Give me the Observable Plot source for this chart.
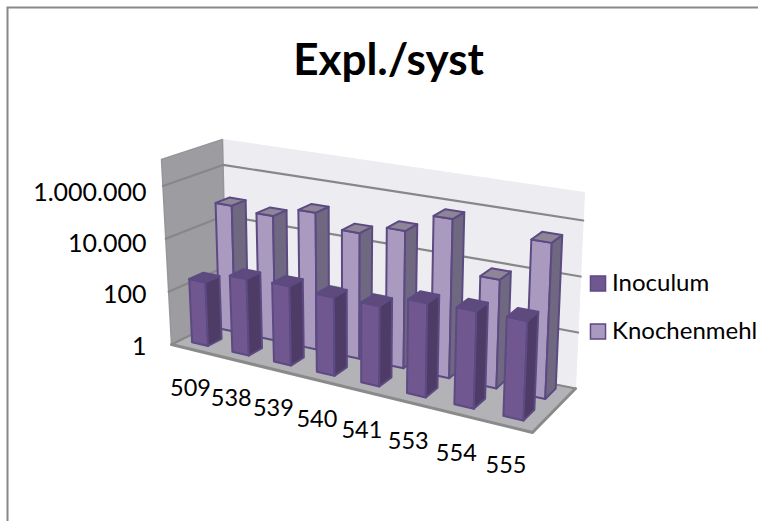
<!DOCTYPE html>
<html>
<head>
<meta charset="utf-8">
<script src="https://cdn.jsdelivr.net/npm/d3@7"></script>
<script src="https://cdn.jsdelivr.net/npm/@observablehq/plot@0.6"></script>
<style>
  html, body { margin: 0; padding: 0; background: #fff; overflow: hidden; }
</style>
</head>
<body>
<div id="chart"></div>
<script>
// Chart values
const categories = ["509", "538", "539", "540", "541", "553", "554", "555"];
const inoculum = [250, 700, 800, 680, 720, 2000, 2300, 2400];
const knochenmehl = [72000, 54000, 135000, 45000, 105000, 550000, 7400, 300000];
const tickValues = [1, 100, 10000, 1000000];
const tickLabels = ["1", "100", "10.000", "1.000.000"];
const axisMax = 10000000;

const font = "Lato, 'Open Sans', sans-serif";

// Corners of the 3D plot box as seen on screen: [x, y]
const box = {
  flb: [171, 344], flt: [161, 159],
  frb: [532, 432], frt: [541, 222],
  blb: [226, 317], blt: [222, 139],
  brb: [575, 388], brt: [584, 192]
};

const mix = (a, b, t) => [a[0] + (b[0] - a[0]) * t, a[1] + (b[1] - a[1]) * t];

// u runs along the categories, v into the depth, w up the log axis
function project(u, v, w) {
  const c = 1.14;
  const t = u / (c + (1 - c) * u); // foreshortening along the category axis
  const front = mix(mix(box.flb, box.frb, t), mix(box.flt, box.frt, t), w);
  const back = mix(mix(box.blb, box.brb, t), mix(box.blt, box.brt, t), w);
  return mix(front, back, v);
}
const level = (value) => Math.log10(value) / Math.log10(axisMax);

// Every surface becomes a closed outline fed to Plot.line
const faces = [];
let faceId = 0;
function addFace(points, fill, stroke, strokeWidth) {
  const id = faceId++;
  [...points, points[0]].forEach(([u, v, w]) => {
    const [x, y] = project(u, v, w);
    faces.push({id, x, y, fill, stroke, strokeWidth});
  });
}

// Walls and floor
addFace([[0, 1, 0], [1, 1, 0], [1, 1, 1], [0, 1, 1]], "#edecf1", "#edecf1", 1);
addFace([[0, 0, 0], [0, 1, 0], [0, 1, 1], [0, 0, 1]], "#9d9ca1", "#96969a", 1.5);
addFace([[0, 0, 0], [1, 0, 0], [1, 1, 0], [0, 1, 0]], "#b3b2b6", "#b3b2b6", 1);

// Gridlines along both walls
const gridRows = [];
tickValues.forEach((value, g) => {
  const w = level(value);
  [[0, 0, w], [0, 1, w], [1, 1, w]].forEach(([u, v, wv]) => {
    const [x, y] = project(u, v, wv);
    gridRows.push({g, x, y});
  });
});

// Front and right edge of the floor slab
const floorEdge = [[0, 0, 0], [1, 0, 0], [1, 1, 0]].map(([u, v, w]) => {
  const [x, y] = project(u, v, w);
  return {x, y};
});

// Column faces, back row first so the front row covers it
const outline = "#5c4a82";
function addRow(values, v0, v1, front, side, top) {
  values.forEach((value, i) => {
    const u0 = (i + 0.27) / categories.length;
    const u1 = (i + 0.67) / categories.length;
    const w = level(value);
    addFace([[u0, v0, 0], [u1, v0, 0], [u1, v0, w], [u0, v0, w]], front, outline, 2);
    addFace([[u1, v0, 0], [u1, v1, 0], [u1, v1, w], [u1, v0, w]], side, outline, 2);
    addFace([[u0, v0, w], [u1, v0, w], [u1, v1, w], [u0, v1, w]], top, outline, 2);
  });
}
const wallFaces = faceId;
addRow(knochenmehl, 0.68, 0.92, "#ab9ac0", "#6f6880", "#8e8599");
addRow(inoculum, 0.18, 0.43, "#71578f", "#4e3b66", "#5f4a7d");

const backdrop = faces.filter((d) => d.id < wallFaces);
const columns = faces.filter((d) => d.id >= wallFaces);

// Axis labels follow the same projection as the marks
const valueLabels = tickValues.map((value, i) => {
  const y = project(0, 0, level(value) * 0.965)[1];
  return {x: project(0, 0, 1)[0], y, label: tickLabels[i]};
});
const categoryLabels = categories.map((label, i) => {
  const [x, y] = project((i + 0.5) / categories.length, 0, 0);
  return {x, y, label};
});

const legend = [
  {x: 597.5, y: 283, label: "Inoculum", fill: "#71578f"},
  {x: 597.5, y: 331, label: "Knochenmehl", fill: "#ab9ac0"}
];

const lineOptions = {
  x: "x", y: "y", z: "id", fill: "fill", stroke: "stroke",
  strokeWidth: "strokeWidth", strokeLinejoin: "round"
};

const chart = Plot.plot({
  width: 758,
  height: 521,
  margin: 0,
  style: {fontFamily: font, background: "#fff"},
  x: {domain: [0, 758], range: [0, 758], axis: null},
  y: {domain: [0, 521], range: [0, 521], axis: null},
  color: {type: "identity"},
  marks: [
    Plot.frame({stroke: "#888888", strokeWidth: 2, insetLeft: 7, insetTop: 7, insetRight: -20, insetBottom: -20}),
    Plot.line(backdrop, lineOptions),
    Plot.line(gridRows, {x: "x", y: "y", z: "g", stroke: "#878787", strokeWidth: 2.2}),
    Plot.line(floorEdge, {x: "x", y: "y", stroke: "#8a8a8a", strokeWidth: 3}),
    Plot.line(columns, lineOptions),
    Plot.text(valueLabels, {
      x: "x", y: "y", text: "label", textAnchor: "end", dx: -15, dy: 2,
      fontSize: 25, fill: "#000"
    }),
    Plot.text(categoryLabels, {
      x: "x", y: "y", text: "label", dx: -1, dy: 39, fontSize: 23.5, fill: "#000"
    }),
    Plot.dot(legend, {
      x: "x", y: "y", symbol: "square", r: 8.5, fill: "fill",
      stroke: outline, strokeWidth: 1.5
    }),
    Plot.text(legend, {
      x: "x", y: "y", text: "label", textAnchor: "start", dx: 14,
      fontSize: 24, fill: "#000"
    }),
    Plot.text(["Expl./syst"], {
      frameAnchor: "top", dy: 60, dx: 9, lineAnchor: "middle",
      fontSize: 44, fontWeight: "bold", fill: "#000"
    })
  ]
});

document.getElementById("chart").append(chart);
</script>
</body>
</html>
